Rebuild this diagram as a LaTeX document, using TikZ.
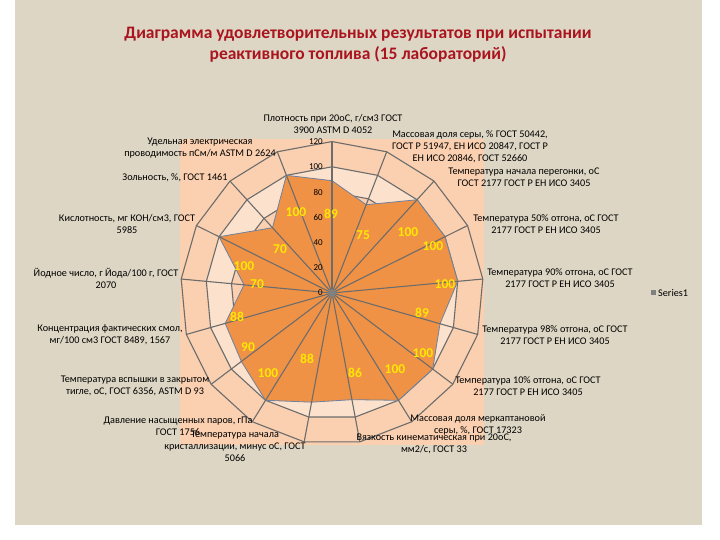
\documentclass[tikz,border=0pt]{standalone}
\usepackage{fontspec}
\setmainfont{Carlito}
\definecolor{bandA}{RGB}{250,208,176}
\definecolor{bandB}{RGB}{252,226,205}
\definecolor{bg}{RGB}{221,214,196}
\definecolor{dataf}{RGB}{240,146,70}
\definecolor{datad}{RGB}{110,130,160}
\definecolor{ttl}{RGB}{170,20,30}
\begin{document}
\begin{tikzpicture}[x=1pt,y=-1pt,
  ax/.style={font=\fontsize{10.2}{12}\selectfont,align=center,inner sep=0pt,text=black},
  val/.style={font=\bfseries\fontsize{13.5}{14}\selectfont,text=yellow!90!orange,inner sep=0pt},
  tick/.style={font=\fontsize{9}{10}\selectfont,anchor=east,inner sep=0pt},
  grid/.style={draw=gray!85!black,line width=1.1pt}]
\useasboundingbox (0,0) rectangle (720,540);
\fill[white] (0,0) rectangle (720,540);
\fill[bg] (15,0) rectangle (702,525);
\fill[bandA] (180,139) rectangle (484,445);
\node[font=\bfseries\fontsize{17.5}{21}\selectfont,text=ttl,align=center] (title) at (358,45) {Диаграмма удовлетворительных результатов при испытании\\реактивного топлива (15 лабораторий)};
\def\cx{332}\def\cy{293}\def\k{1.262}
\foreach \r/\c in {120/bandA,100/bandB,80/bandA,60/bandB,40/bandA,20/bandB}{
  \fill[\c] ({\cx},{\cy-\r*\k}) \foreach \i in {1,...,16}{ -- ({\cx+\r*\k*cos(90-\i*360/17)},{\cy-\r*\k*sin(90-\i*360/17)}) } -- cycle;
}
\foreach \r in {20,40,...,120}{
  \draw[grid] ({\cx},{\cy-\r*\k}) \foreach \i in {1,...,16}{ -- ({\cx+\r*\k*cos(90-\i*360/17)},{\cy-\r*\k*sin(90-\i*360/17)}) } -- cycle;
}
\fill[dataf,draw=datad,line width=0.8pt] ({\cx},{\cy-89*\k})
 \foreach \v [count=\i from 1] in {75,100,100,100,89,100,100,86,88,100,90,88,70,100,70,100}{ -- ({\cx+\v*\k*cos(90-\i*360/17)},{\cy-\v*\k*sin(90-\i*360/17)}) } -- cycle;
\foreach \i in {0,...,16}{
  \draw[grid] (\cx,\cy) -- ({\cx+120*\k*cos(90-\i*360/17)},{\cy-120*\k*sin(90-\i*360/17)});
}
\fill[gray] (\cx,\cy) circle (4);
\foreach \t in {0,20,...,120}{ \node[tick] (t\t) at (323,{\cy-\t*\k}) {\t}; }
\node[ax] (a0) at (333,124) {Плотность при 20оС, г/см3 ГОСТ\\3900 ASTM D 4052};
\node[ax] (a1) at (470,147) {Массовая доля серы, \% ГОСТ 50442,\\ГОСТ Р 51947, ЕН ИСО 20847, ГОСТ Р\\ЕН ИСО 20846, ГОСТ 52660};
\node[ax] (a2) at (524,177) {Температура начала перегонки, оС\\ГОСТ 2177 ГОСТ Р ЕН ИСО 3405};
\node[ax] (a3) at (546,224) {Температура 50\% отгона, оС ГОСТ\\2177 ГОСТ Р ЕН ИСО 3405};
\node[ax] (a4) at (560,278) {Температура 90\% отгона, оС ГОСТ\\2177 ГОСТ Р ЕН ИСО 3405};
\node[ax] (a5) at (555,335) {Температура 98\% отгона, оС ГОСТ\\2177 ГОСТ Р ЕН ИСО 3405};
\node[ax] (a6) at (528,386) {Температура 10\% отгона, оС ГОСТ\\2177 ГОСТ Р ЕН ИСО 3405};
\node[ax] (a7) at (478,425) {Массовая доля меркаптановой\\серы, \%, ГОСТ 17323};
\node[ax] (a8) at (434,444) {Вязкость кинематическая при 20оС,\\мм2/с, ГОСТ 33};
\node[ax] (a9) at (235,446) {Температура начала\\кристаллизации, минус оС, ГОСТ\\5066};
\node[ax] (a10) at (178,426) {Давление насыщенных паров, гПа\\ГОСТ 1756};
\node[ax] (a11) at (135,386) {Температура вспышки в закрытом\\тигле, оС, ГОСТ 6356, ASTM D 93};
\node[ax] (a12) at (110,335) {Концентрация фактических смол,\\мг/100 см3 ГОСТ 8489, 1567};
\node[ax] (a13) at (106,278) {Йодное число, г Йода/100 г, ГОСТ\\2070};
\node[ax] (a14) at (127,224) {Кислотность, мг КОН/см3, ГОСТ\\5985};
\node[ax] (a15) at (175,178) {Зольность, \%, ГОСТ 1461};
\node[ax] (a16) at (200,148) {Удельная электрическая\\проводимость пСм/м ASTM D 2624};
\node[val] (v0) at (331,214) {89};
\node[val] (v1) at (363,235) {75};
\node[val] (v2) at (408,232) {100};
\node[val] (v3) at (433,246) {100};
\node[val] (v4) at (445,284) {100};
\node[val] (v5) at (422,313) {89};
\node[val] (v6) at (423,353) {100};
\node[val] (v7) at (395,369) {100};
\node[val] (v8) at (355,373) {86};
\node[val] (v9) at (307,359) {88};
\node[val] (v10) at (268,373) {100};
\node[val] (v11) at (248,347) {90};
\node[val] (v12) at (237,317) {88};
\node[val] (v13) at (257,284) {70};
\node[val] (v14) at (244,266) {100};
\node[val] (v15) at (280,249) {70};
\node[val] (v16) at (296,212) {100};
\fill[gray] (651,290) rectangle (656,295);
\node[ax,anchor=west] (leg) at (658,293) {Series1};
\end{tikzpicture}
\end{document}
